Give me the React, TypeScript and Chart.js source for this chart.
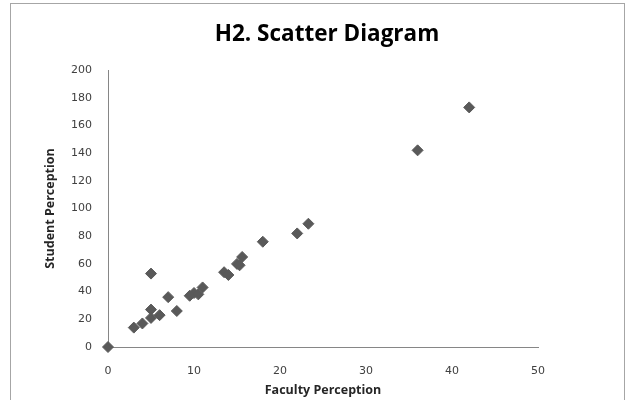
import React, { useEffect, useRef } from "react";
import { Chart, registerables } from "chart.js";

Chart.register(...registerables);

const facultyPerception = [0, 3, 4, 5, 5, 5, 6, 7, 8, 9.5, 10, 10.5, 11, 13.5, 14, 15, 15.3, 15.6, 18, 22, 23.3, 36, 42];
const studentPerception = [0, 14, 17, 53, 27, 21, 23, 36, 26, 37, 39, 38, 43, 54, 52, 60, 59, 65, 76, 82, 89, 142, 173];

const titleText = "H2. Scatter Diagram";
const xTitle = "Faculty Perception";
const yTitle = "Student Perception";

const titlePlugin = {
  id: "centeredTitle",
  afterDraw(chart: any) {
    const ctx = chart.ctx;
    ctx.save();
    ctx.font = "bold 22.5px 'Open Sans'";
    ctx.fillStyle = "#000000";
    ctx.textAlign = "center";
    ctx.textBaseline = "middle";
    ctx.fillText(titleText, 327, 35);
    ctx.restore();
  },
};

export default function App() {
  const ref = useRef<HTMLCanvasElement | null>(null);

  useEffect(() => {
    if (!ref.current) return;
    const points = facultyPerception.map((x, i) => ({ x, y: studentPerception[i] }));
    const chart = new Chart(ref.current, {
      type: "scatter",
      data: {
        datasets: [
          {
            data: points,
            pointStyle: "rectRot",
            pointRadius: 5.5,
            pointHoverRadius: 5.5,
            backgroundColor: "#595959",
            borderColor: "#595959",
            borderWidth: 1,
            clip: false,
          },
        ],
      },
      options: {
        animation: false,
        responsive: false,
        maintainAspectRatio: false,
        layout: { padding: { left: 0, right: 89, top: 70, bottom: 0 } },
        plugins: {
          legend: { display: false },
          tooltip: { enabled: false },
          title: { display: false },
        },
        scales: {
          x: {
            type: "linear",
            min: 0,
            max: 50,
            ticks: {
              stepSize: 10,
              padding: 18,
              color: "#404040",
              font: { family: "DejaVu Sans", size: 11 },
            },
            grid: { drawOnChartArea: false, drawTicks: false },
            border: { display: true, color: "#868686", width: 1 },
            title: {
              display: true,
              text: xTitle,
              color: "#262626",
              font: { family: "Open Sans", size: 12.5, weight: "bold", lineHeight: 1.2 },
              padding: { top: 0, bottom: 2.5 },
            },
            afterFit: (s: any) => {
              s.height = 53;
            },
          },
          y: {
            type: "linear",
            min: 0,
            max: 200,
            ticks: {
              stepSize: 20,
              padding: 16,
              color: "#404040",
              font: { family: "DejaVu Sans", size: 11 },
            },
            grid: { drawOnChartArea: false, drawTicks: false },
            border: { display: true, color: "#868686", width: 1 },
            title: {
              display: true,
              text: yTitle,
              color: "#262626",
              font: { family: "Open Sans", size: 12.5, weight: "bold", lineHeight: 1.2 },
              padding: { top: 43, bottom: 0 },
            },
            afterFit: (s: any) => {
              s.width = 108;
            },
          },
        },
      },
      plugins: [titlePlugin],
    });
    return () => chart.destroy();
  }, []);

  return (
    <div style={{ position: "fixed", left: 0, top: 0, width: 627, height: 400, overflow: "hidden", background: "#ffffff" }}>
      <div
        style={{
          position: "absolute",
          left: 10,
          top: 3,
          width: 615,
          height: 420,
          border: "1px solid #a6a6a6",
          boxSizing: "border-box",
        }}
      />
      <canvas ref={ref} width={627} height={400} style={{ position: "absolute", left: 0, top: 0, width: 627, height: 400 }} />
    </div>
  );
}
